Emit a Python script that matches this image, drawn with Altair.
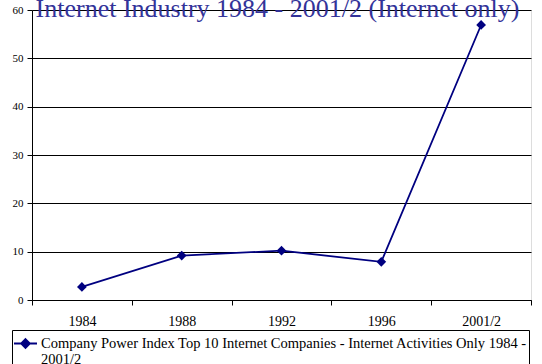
import altair as alt
import pandas as pd

# Company Power Index, top 10 internet companies (internet activities only)
periods = ["1984", "1988", "1992", "1996", "2001/2"]
values = [2.7, 9.2, 10.2, 7.9, 56.9]
series_name = "Company Power Index Top 10 Internet Companies - Internet Activities Only 1984 - 2001/2"
line_one = "Company Power Index Top 10 Internet Companies - Internet Activities Only 1984 -"

df = pd.DataFrame({"period": periods, "value": values, "series": series_name})

SERIF = "Liberation Serif"
NAVY = "#000080"

# legend glyph: a short line with a diamond in the middle
glyph = "M-1,0L1,0M0,-0.38L0.38,0L0,0.38L-0.38,0Z"

split_at = len(line_one)
label_expr = f"[substring(datum.label, 0, {split_at}), substring(datum.label, {split_at + 1})]"

chart = (
    alt.Chart(df)
    .mark_line(
        color=NAVY,
        strokeWidth=1.8,
        point=alt.OverlayMarkDef(shape="diamond", size=95, color=NAVY, filled=True),
    )
    .encode(
        x=alt.X(
            "period:O",
            sort=periods,
            scale=alt.Scale(type="band", paddingInner=0, paddingOuter=0),
            axis=alt.Axis(
                title=None,
                labelAngle=0,
                labelFont=SERIF,
                labelFontSize=14,
                labelColor="black",
                labelPadding=9,
                tickBand="extent",
                tickSize=5,
                tickColor="black",
                domainColor="black",
                grid=False,
            ),
        ),
        y=alt.Y(
            "value:Q",
            scale=alt.Scale(domain=[0, 60], nice=False),
            axis=alt.Axis(
                title=None,
                values=[0, 10, 20, 30, 40, 50, 60],
                labelFont=SERIF,
                labelFontSize=11,
                labelColor="black",
                labelPadding=4,
                tickSize=5,
                tickColor="black",
                domainColor="black",
                gridColor="black",
                gridOpacity=1,
            ),
        ),
        color=alt.Color(
            "series:N",
            scale=alt.Scale(range=[NAVY]),
            legend=alt.Legend(
                title=None,
                orient="none",
                legendX=-20,
                legendY=320,
                strokeColor="black",
                fillColor="white",
                padding=1,
                symbolType=glyph,
                symbolSize=530,
                symbolStrokeWidth=1.8,
                symbolFillColor=NAVY,
                symbolStrokeColor=NAVY,
                labelFont=SERIF,
                labelFontSize=14.5,
                labelColor="black",
                labelLimit=700,
                labelOffset=3,
                labelBaseline="middle",
                labelExpr=label_expr,
            ),
        ),
    )
    .properties(
        width=499,
        height=290,
        title=alt.TitleParams(
            "Internet Industry 1984 - 2001/2 (Internet only)",
            font=SERIF,
            fontSize=26,
            fontWeight="normal",
            color="#333399",
            anchor="middle",
            baseline="alphabetic",
            offset=-39,
            dx=-4,
        ),
        autosize=alt.AutoSizeParams(type="none"),
        padding={"left": 32, "top": 10, "right": 11, "bottom": 64},
    )
    .configure_view(stroke="black", strokeWidth=1)
    .configure(background="white")
)

chart.save("out.html", embed_options={"renderer": "svg", "actions": False})
